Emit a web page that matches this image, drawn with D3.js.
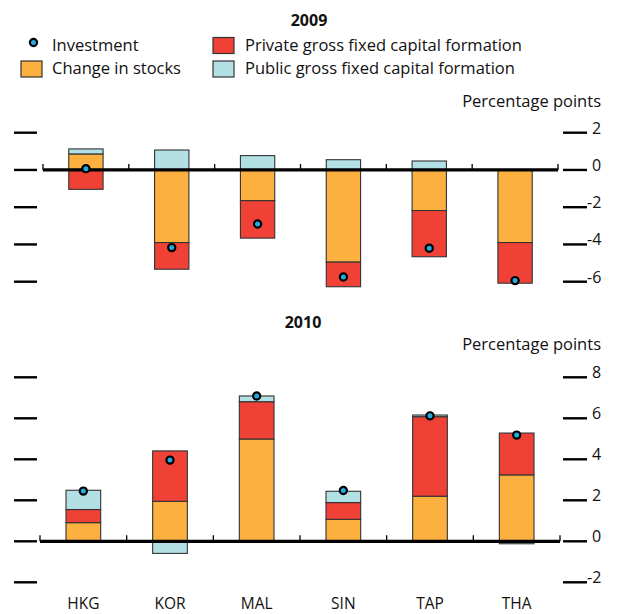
<!DOCTYPE html>
<html>
<head>
<meta charset="utf-8">
<script src="https://cdn.jsdelivr.net/npm/d3@7"></script>
<style>
  html, body { margin: 0; padding: 0; background: #fff; }
  svg { display: block; font-family: "Open Sans", sans-serif; }
</style>
</head>
<body>
<svg id="chart" width="623" height="614"></svg>
<script>
// ---- data ----
const categories = ["HKG", "KOR", "MAL", "SIN", "TAP", "THA"];

const stocks2009     = [0.86, -3.90, -1.65, -4.95, -2.18, -3.90];
const private2009    = [-1.04, -1.43, -2.01, -1.32, -2.48, -2.18];
const public2009     = [0.27, 1.07, 0.77, 0.55, 0.48, 0.00];
const investment2009 = [0.07, -4.17, -2.90, -5.75, -4.20, -5.94];

const stocks2010     = [0.91, 1.95, 4.99, 1.07, 2.20, 3.24];
const private2010    = [0.64, 2.46, 1.82, 0.82, 3.88, 2.04];
const public2010     = [0.94, -0.59, 0.28, 0.55, 0.08, -0.12];
const investment2010 = [2.45, 3.96, 7.09, 2.48, 6.12, 5.18];

const ticks2009 = [2, 0, -2, -4, -6];
const ticks2010 = [8, 6, 4, 2, 0, -2];

const seriesNames = ["Change in stocks", "Private gross fixed capital formation", "Public gross fixed capital formation"];
const seriesKeys = ["stocks", "private", "public"];
const colors = { stocks: "#FBB040", private: "#EF4136", public: "#B3E0E5" };
const dotFill = "#27AAE1";

const svg = d3.select("#chart");

function buildRows(st, pr, pu) {
  return categories.map((c, i) => ({ cat: c, stocks: st[i], private: pr[i], public: pu[i] }));
}

function drawPanel(opts) {
  const { rows, inv, ticks, yDomain, yRange, xRange, title, titleX, titleY, unitY, showCats } = opts;
  const g = svg.append("g");
  const x = d3.scaleBand().domain(categories).range(xRange).paddingInner(0.6).paddingOuter(0.3);
  const y = d3.scaleLinear().domain(yDomain).range(yRange);

  const stack = d3.stack().keys(seriesKeys).offset(d3.stackOffsetDiverging);
  const series = stack(rows);

  g.selectAll("g.layer").data(series).join("g")
    .attr("class", "layer")
    .attr("fill", d => colors[d.key])
    .selectAll("rect").data(d => d).join("rect")
    .attr("x", d => x(d.data.cat))
    .attr("width", x.bandwidth())
    .attr("y", d => y(Math.max(d[0], d[1])))
    .attr("height", d => Math.abs(y(d[0]) - y(d[1])))
    .attr("stroke", "#333")
    .attr("stroke-width", 1.1);

  // zero axis line
  const [r0, r1] = xRange;
  g.append("line")
    .attr("x1", r0).attr("x2", r1)
    .attr("y1", y(0)).attr("y2", y(0))
    .attr("stroke", "#000").attr("stroke-width", 3.2);
  // category boundary ticks
  const bounds = d3.range(categories.length + 1).map(i => r0 + i * x.step());
  g.selectAll("line.ctick").data(bounds).join("line")
    .attr("class", "ctick")
    .attr("x1", d => d).attr("x2", d => d)
    .attr("y1", y(0)).attr("y2", y(0) - 6)
    .attr("stroke", "#000").attr("stroke-width", 1.3);

  // left ticks (no labels)
  g.selectAll("line.lt").data(ticks).join("line")
    .attr("class", "lt")
    .attr("x1", 14).attr("x2", 37)
    .attr("y1", d => y(d)).attr("y2", d => y(d))
    .attr("stroke", "#000").attr("stroke-width", 2.4);
  // right ticks with labels
  g.selectAll("line.rt").data(ticks).join("line")
    .attr("class", "rt")
    .attr("x1", 563).attr("x2", 587)
    .attr("y1", d => y(d)).attr("y2", d => y(d))
    .attr("stroke", "#000").attr("stroke-width", 2.4);
  g.selectAll("text.rl").data(ticks).join("text")
    .attr("class", "rl")
    .attr("x", d => d < 0 ? 587 : 592)
    .attr("y", d => y(d) + 1)
    .attr("font-size", 16)
    .attr("fill", "#111")
    .text(d => String(d));

  // investment dots
  g.selectAll("circle.inv").data(inv).join("circle")
    .attr("class", "inv")
    .attr("cx", (d, i) => x(categories[i]) + x.bandwidth() / 2)
    .attr("cy", d => y(d))
    .attr("r", 3.6)
    .attr("fill", dotFill)
    .attr("stroke", "#000")
    .attr("stroke-width", 2.2);

  // title
  g.append("text")
    .attr("x", titleX).attr("y", titleY)
    .attr("text-anchor", "middle")
    .attr("font-size", 16).attr("font-weight", "bold")
    .attr("fill", "#111")
    .text(title);
  g.append("text")
    .attr("x", 601).attr("y", unitY)
    .attr("text-anchor", "end")
    .attr("font-size", 16.5)
    .attr("fill", "#111")
    .text("Percentage points");

  if (showCats) {
    g.selectAll("text.cat").data(categories).join("text")
      .attr("class", "cat")
      .attr("x", d => x(d) + x.bandwidth() / 2)
      .attr("y", 609)
      .attr("text-anchor", "middle")
      .attr("font-size", 15.5)
      .attr("fill", "#111")
      .text(d => d);
  }
}

drawPanel({
  rows: buildRows(stocks2009, private2009, public2009),
  inv: investment2009,
  ticks: ticks2009,
  yDomain: [-6, 2], yRange: [281.7, 132.7],
  xRange: [43, 558],
  title: "2009", titleX: 309, titleY: 26,
  unitY: 107, showCats: false
});

drawPanel({
  rows: buildRows(stocks2010, private2010, public2010),
  inv: investment2010,
  ticks: ticks2010,
  yDomain: [-2, 8], yRange: [582.3, 377.3],
  xRange: [40, 560],
  title: "2010", titleX: 303, titleY: 328,
  unitY: 350, showCats: true
});

// ---- legend ----
const leg = svg.append("g");
leg.append("circle").attr("cx", 33.5).attr("cy", 42.5).attr("r", 3.6)
  .attr("fill", dotFill).attr("stroke", "#000").attr("stroke-width", 2.2);
leg.append("text").attr("x", 52).attr("y", 51).attr("font-size", 16.5).attr("fill", "#111").text("Investment");

const legItems = [
  { key: "stocks", x: 21, y: 61, tx: 52, ty: 74 },
  { key: "private", x: 213, y: 37.5, tx: 245, ty: 51 },
  { key: "public", x: 213, y: 61, tx: 245, ty: 74 }
];
legItems.forEach((it) => {
  leg.append("rect").attr("x", it.x).attr("y", it.y).attr("width", 21).attr("height", 16)
    .attr("fill", colors[it.key]).attr("stroke", "#333").attr("stroke-width", 1.2);
  leg.append("text").attr("x", it.tx).attr("y", it.ty).attr("font-size", 16.5).attr("fill", "#111")
    .text(seriesNames[seriesKeys.indexOf(it.key)]);
});
</script>
</body>
</html>
